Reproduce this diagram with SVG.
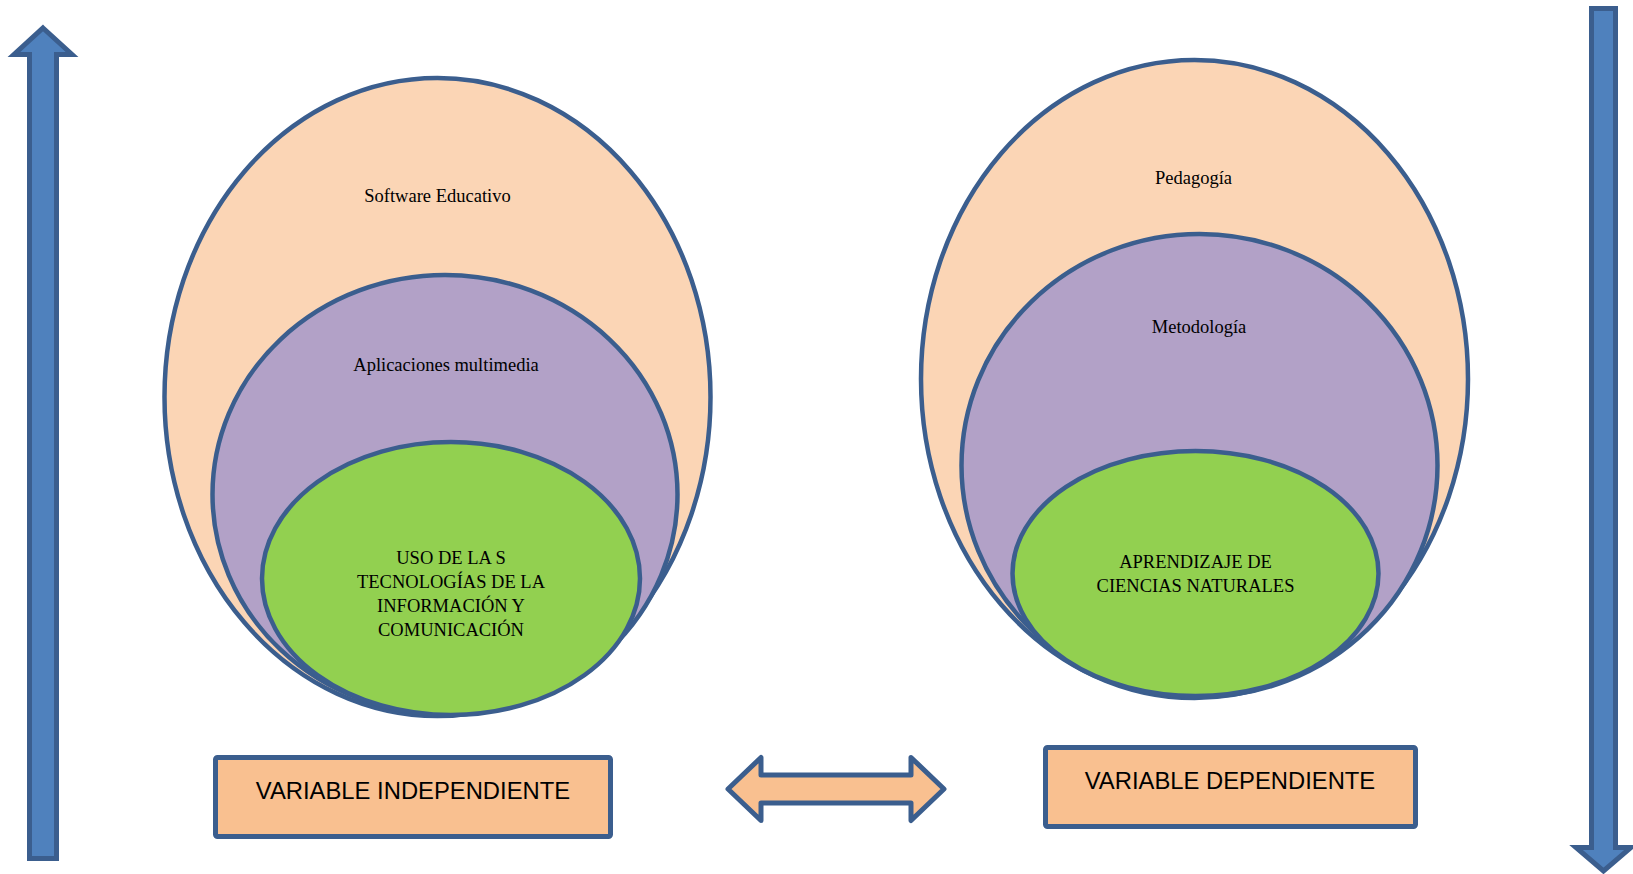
<svg xmlns="http://www.w3.org/2000/svg" width="1633" height="874" viewBox="0 0 1633 874">
<style>
.ring{stroke:#3B5E8E;stroke-width:4.5}
.peach{fill:#FBD5B5}
.purple{fill:#B2A1C7}
.green{fill:#92D050}
.lbl{font-family:"Liberation Serif","Times New Roman",serif;font-size:18.5px;fill:#000;text-anchor:middle}
.box{fill:#F9C090;stroke:#3B5E8E;stroke-width:5}
.boxlbl{font-family:"Liberation Sans",Arial,sans-serif;font-size:23.8px;fill:#000;text-anchor:middle}
.blue{fill:#4F81BD;stroke:#3B5E8E;stroke-width:5;stroke-linejoin:miter}
</style>
<rect width="1633" height="874" fill="#FFFFFF"/>
<g id="arrow-up">
<polygon class="blue" points="43,28 72,54.5 56.5,54.5 56.5,858.5 29.5,858.5 29.5,54.5 14,54.5"/>
</g>
<g id="arrow-down">
<polygon class="blue" points="1591.5,8.5 1615.5,8.5 1615.5,847.5 1631,847.5 1603.5,871 1576,847.5 1591.5,847.5"/>
</g>
<g id="left-set">
<g id="software-educativo">
<ellipse class="ring peach" cx="437.5" cy="397" rx="273" ry="319"/>
<text class="lbl" x="437.5" y="202">Software Educativo</text>
</g>
<g id="aplicaciones-multimedia">
<ellipse class="ring purple" cx="445" cy="494.5" rx="232.5" ry="219.5"/>
<text class="lbl" x="446" y="371">Aplicaciones multimedia</text>
</g>
<g id="uso-tic">
<ellipse class="ring green" cx="451" cy="578.5" rx="189" ry="136.5"/>
<text class="lbl" x="451" y="564">USO DE LA S</text>
<text class="lbl" x="451" y="588">TECNOLOGÍAS DE LA</text>
<text class="lbl" x="451" y="612">INFORMACIÓN Y</text>
<text class="lbl" x="451" y="636">COMUNICACIÓN</text>
</g>
</g>
<g id="right-set">
<g id="pedagogia">
<ellipse class="ring peach" cx="1194.5" cy="379" rx="273.5" ry="319"/>
<text class="lbl" x="1193.5" y="184">Pedagogía</text>
</g>
<g id="metodologia">
<ellipse class="ring purple" cx="1199.5" cy="465.5" rx="238" ry="231.5"/>
<text class="lbl" x="1199" y="333">Metodología</text>
</g>
<g id="aprendizaje">
<ellipse class="ring green" cx="1195.5" cy="573.5" rx="183" ry="122.5"/>
<text class="lbl" x="1195.5" y="568">APRENDIZAJE DE</text>
<text class="lbl" x="1195.5" y="592">CIENCIAS NATURALES</text>
</g>
</g>
<g id="variable-independiente">
<rect class="box" x="215.5" y="757.5" width="395" height="79" rx="2"/>
<text class="boxlbl" x="413" y="798.5">VARIABLE INDEPENDIENTE</text>
</g>
<g id="variable-dependiente">
<rect class="box" x="1045.5" y="747.5" width="370" height="79" rx="2"/>
<text class="boxlbl" x="1230" y="788.5">VARIABLE DEPENDIENTE</text>
</g>
<g id="connectors">
<polygon class="box" stroke-linejoin="round" points="728,789 761,757.5 761,775 911,775 911,757.5 944,789 911,820.5 911,803 761,803 761,820.5"/>
</g>
</svg>
